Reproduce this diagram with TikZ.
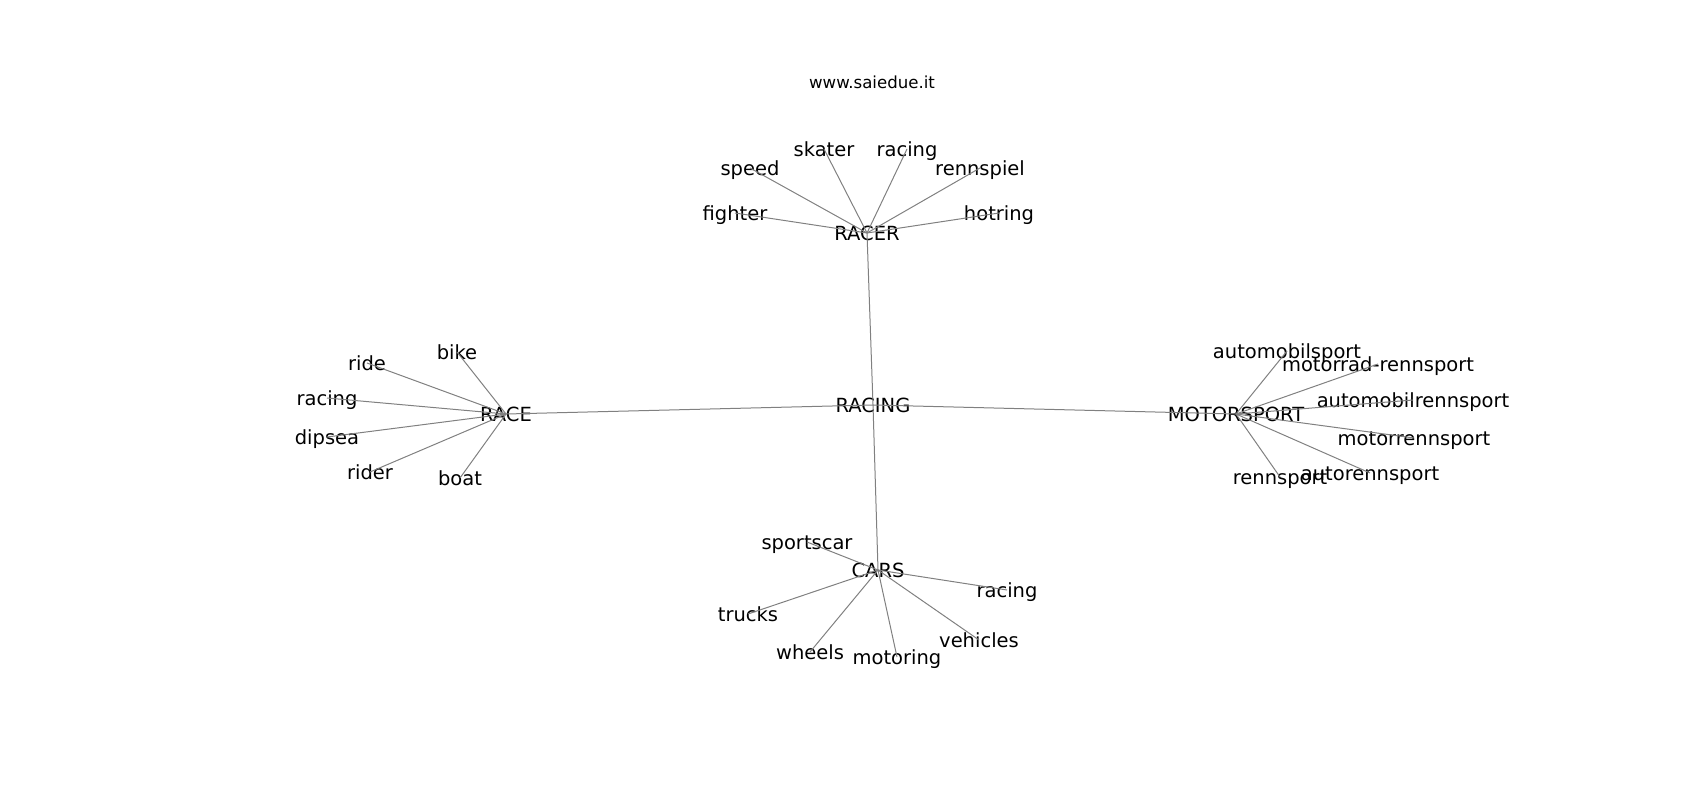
\documentclass[tikz,border=0pt]{standalone}
\usepackage{fontspec}
\setmainfont{DejaVu Sans}

\begin{document}
\begin{tikzpicture}[x=1pt,y=-1pt,
  word/.style={inner sep=0pt,text height=15.5pt,text depth=0pt,font=\fontsize{19.5}{19.5}\selectfont},
  link/.style={draw=gray,line width=1pt}]
  \useasboundingbox (0,0) rectangle (1700,800);
  \node[inner sep=0pt,font=\fontsize{16.6}{16.6}\selectfont] (site) at (872,82) {www.saiedue.it};
  % hubs
  \node[word] (racing) at (873,405) {RACING};
  \node[word] (racer) at (867,233) {RACER};
  \node[word] (race) at (506,414) {RACE};
  \node[word] (motorsport) at (1236,414) {MOTORSPORT};
  \node[word] (cars) at (878,570) {CARS};
  % racer
  \node[word] (fighter) at (735,213) {fighter};
  \node[word] (speed) at (750,168) {speed};
  \node[word] (skater) at (824,149) {skater};
  \node[word] (racingA) at (907,149) {racing};
  \node[word] (rennspiel) at (980,168) {rennspiel};
  \node[word] (hotring) at (999,213) {hotring};
  % race
  \node[word] (bike) at (457,352) {bike};
  \node[word] (ride) at (367,363) {ride};
  \node[word] (racingB) at (327,398) {racing};
  \node[word] (dipsea) at (327,437) {dipsea};
  \node[word] (rider) at (370,472) {rider};
  \node[word] (boat) at (460,478) {boat};
  % motorsport
  \node[word] (automobilsport) at (1287,351) {automobilsport};
  \node[word] (motorrad) at (1378,364) {motorrad-rennsport};
  \node[word] (automobilrennsport) at (1413,400) {automobilrennsport};
  \node[word] (motorrennsport) at (1414,438) {motorrennsport};
  \node[word] (autorennsport) at (1370,473) {autorennsport};
  \node[word] (rennsport) at (1280,477) {rennsport};
  % cars
  \node[word] (sportscar) at (807,542) {sportscar};
  \node[word] (racingC) at (1007,590) {racing};
  \node[word] (trucks) at (748,614) {trucks};
  \node[word] (wheels) at (810,652) {wheels};
  \node[word] (motoring) at (897,657) {motoring};
  \node[word] (vehicles) at (979,640) {vehicles};

  \foreach \hub in {racer,race,motorsport,cars}
    \draw[link] (racing.center) -- (\hub.center);
  \foreach \leaf in {fighter,speed,skater,racingA,rennspiel,hotring}
    \draw[link] (racer.center) -- (\leaf.center);
  \foreach \leaf in {bike,ride,racingB,dipsea,rider,boat}
    \draw[link] (race.center) -- (\leaf.center);
  \foreach \leaf in {automobilsport,motorrad,automobilrennsport,motorrennsport,autorennsport,rennsport}
    \draw[link] (motorsport.center) -- (\leaf.center);
  \foreach \leaf in {sportscar,racingC,trucks,wheels,motoring,vehicles}
    \draw[link] (cars.center) -- (\leaf.center);
\end{tikzpicture}
\end{document}
